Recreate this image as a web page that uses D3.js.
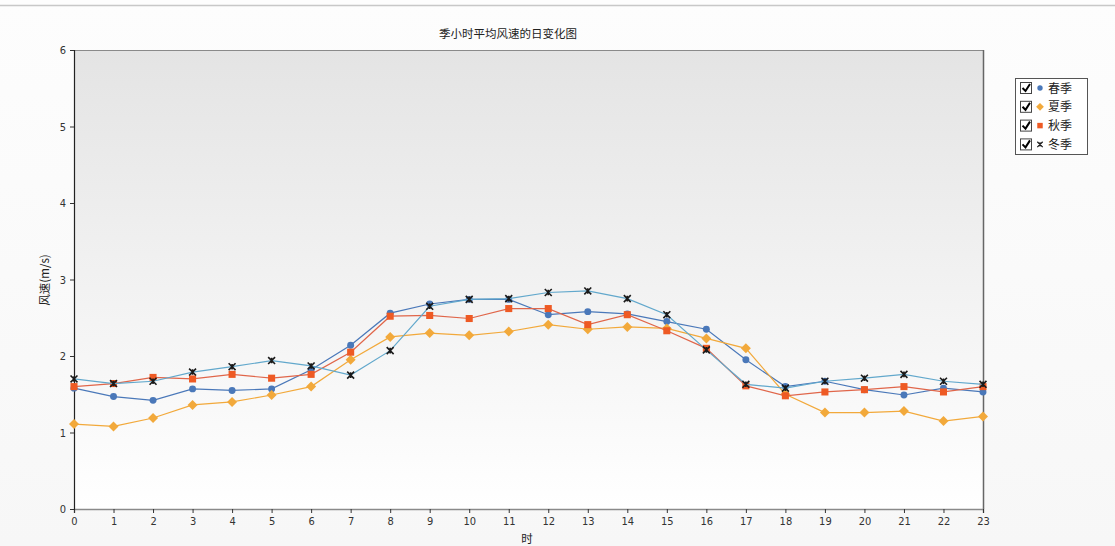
<!DOCTYPE html>
<html>
<head>
<meta charset="utf-8">
<script src="https://cdn.jsdelivr.net/npm/d3@7"></script>
<style>
body{margin:0;background:#fff;}
svg{display:block;font-family:"Noto Sans CJK SC","DejaVu Sans",sans-serif;}
</style>
</head>
<body>
<svg id="chart" width="1115" height="546"></svg>
<script>
const hours = d3.range(0, 24);
const hourTicks = ["0","1","2","3","4","5","6","7","8","9","10","11","12","13","14","15","16","17","18","19","20","21","22","23"];
const yTicks = [0,1,2,3,4,5,6];
const seriesNames = ["春季","夏季","秋季","冬季"];
const spring = [1.58,1.47,1.42,1.57,1.55,1.57,1.82,2.14,2.56,2.68,2.74,2.74,2.54,2.58,2.55,2.45,2.35,1.95,1.60,1.67,1.56,1.49,1.58,1.53];
const summer = [1.11,1.08,1.19,1.36,1.40,1.49,1.60,1.95,2.25,2.30,2.27,2.32,2.41,2.35,2.38,2.36,2.23,2.10,1.50,1.26,1.26,1.28,1.15,1.21];
const autumn = [1.60,1.64,1.72,1.70,1.76,1.71,1.76,2.05,2.52,2.53,2.49,2.62,2.62,2.41,2.54,2.33,2.10,1.61,1.48,1.53,1.56,1.60,1.53,1.60];
const winter = [1.70,1.64,1.67,1.79,1.86,1.94,1.87,1.75,2.07,2.65,2.74,2.75,2.83,2.85,2.75,2.54,2.08,1.63,1.58,1.67,1.71,1.76,1.67,1.63];
const title = "季小时平均风速的日变化图";
const xTitle = "时";
const yTitle = "风速(m/s)";

const series = [
  {name: seriesNames[0], values: spring, color: "#4a78b9", line: "#4a78b9", shape: "circle"},
  {name: seriesNames[1], values: summer, color: "#f2a93b", line: "#f2a93b", shape: "diamond"},
  {name: seriesNames[2], values: autumn, color: "#ee5a24", line: "#e0664a", shape: "square"},
  {name: seriesNames[3], values: winter, color: "#1a1a1a", line: "#62a8cc", shape: "star"}
];

const svg = d3.select("#chart");
const W = 1115, H = 546;
const m = {left: 74, right: 983, top: 50, bottom: 509};

const defs = svg.append("defs");
const bg = defs.append("linearGradient").attr("id","bgGrad").attr("x1",0).attr("y1",0).attr("x2",0).attr("y2",1);
bg.append("stop").attr("offset","0%").attr("stop-color","#fdfdfd");
bg.append("stop").attr("offset","100%").attr("stop-color","#f7f7f7");
const pg = defs.append("linearGradient").attr("id","plotGrad").attr("x1",0).attr("y1",0).attr("x2",0).attr("y2",1);
pg.append("stop").attr("offset","0%").attr("stop-color","#e4e4e4");
pg.append("stop").attr("offset","100%").attr("stop-color","#ffffff");

svg.append("rect").attr("x",0).attr("y",0).attr("width",W).attr("height",H).attr("fill","url(#bgGrad)");
svg.append("line").attr("x1",0).attr("x2",W).attr("y1",5.5).attr("y2",5.5).attr("stroke","#c8c8c8").attr("stroke-width",1.5);

const x = d3.scaleLinear().domain([0,23]).range([m.left, m.right]);
const y = d3.scaleLinear().domain([0,6]).range([m.bottom, m.top]);

svg.append("rect").attr("x",m.left).attr("y",m.top).attr("width",m.right-m.left).attr("height",m.bottom-m.top)
  .attr("fill","url(#plotGrad)");
svg.append("line").attr("x1",m.left).attr("x2",m.right).attr("y1",m.top+0.5).attr("y2",m.top+0.5).attr("stroke","#8a8a8a");
svg.append("line").attr("x1",m.right+0.5).attr("x2",m.right+0.5).attr("y1",m.top).attr("y2",m.bottom).attr("stroke","#666").attr("stroke-width",1.5);

const xAxis = svg.append("g").attr("transform",`translate(0,${m.bottom})`)
  .call(d3.axisBottom(x).tickValues(hours).tickFormat((d,i)=>hourTicks[i]).tickSize(4).tickPadding(4));
xAxis.select(".domain").attr("stroke","#8a8a8a").attr("stroke-width",1.5);
xAxis.selectAll(".tick line").attr("stroke","#333");
xAxis.selectAll("text").attr("font-size",11).attr("fill","#333").attr("font-family","'DejaVu Sans Condensed','DejaVu Sans',sans-serif");

const yAxis = svg.append("g").attr("transform",`translate(${m.left},0)`)
  .call(d3.axisLeft(y).tickValues(yTicks).tickFormat(d3.format("d")).tickSize(4).tickPadding(4));
yAxis.select(".domain").attr("stroke","#222").attr("stroke-width",1.2);
yAxis.selectAll(".tick line").attr("stroke","#333");
yAxis.selectAll("text").attr("font-size",11).attr("fill","#333").attr("font-family","'DejaVu Sans Condensed','DejaVu Sans',sans-serif");

svg.append("text").attr("x",508).attr("y",38).attr("text-anchor","middle").attr("font-size",11.5).attr("fill","#222").text(title);
svg.append("text").attr("x",527).attr("y",543).attr("text-anchor","middle").attr("font-size",11.5).attr("fill","#222").text(xTitle);
svg.append("text").attr("transform","translate(49,280) rotate(-90)").attr("text-anchor","middle").attr("font-size",11.5).attr("fill","#222").text(yTitle);

// custom symbols
const squareDiamond = {draw(ctx, size){ const r = Math.sqrt(size/2); ctx.moveTo(0,-r); ctx.lineTo(r,0); ctx.lineTo(0,r); ctx.lineTo(-r,0); ctx.closePath(); }};
const starX = {draw(ctx, size){ const r = Math.sqrt(size)/2;
  ctx.moveTo(-r,-r); ctx.lineTo(r,r); ctx.moveTo(r,-r); ctx.lineTo(-r,r);
  ctx.moveTo(0,-r*0.8); ctx.lineTo(0,r*0.8); }};

const lineGen = d3.line().x((d,i)=>x(hours[i])).y(d=>y(d));
const symbolFor = s => ({circle:d3.symbolCircle, diamond:squareDiamond, square:d3.symbolSquare, star:starX})[s];
const sizeFor = s => ({circle:38, diamond:50, square:50, star:48})[s];

series.forEach(s => {
  const g = svg.append("g");
  g.append("path").datum(s.values).attr("d",lineGen).attr("fill","none").attr("stroke",s.line).attr("stroke-width",1.2);
  g.selectAll("path.pt").data(s.values).join("path").attr("class","pt")
    .attr("transform",(d,i)=>`translate(${x(hours[i])},${y(d)})`)
    .attr("d",d3.symbol().type(symbolFor(s.shape)).size(sizeFor(s.shape)))
    .attr("fill",s.shape==="star"?"none":s.color)
    .attr("stroke",s.shape==="star"?"#1a1a1a":"none")
    .attr("stroke-width",s.shape==="star"?1.6:0);
});

const lg = svg.append("g");
lg.append("rect").attr("x",1015.5).attr("y",78.5).attr("width",72).attr("height",76).attr("fill","#fff").attr("stroke","#555");
series.forEach((s,i)=>{
  const cy = 88 + i*18.8;
  lg.append("rect").attr("x",1020.5).attr("y",cy-5.5).attr("width",11).attr("height",11).attr("fill","#fff").attr("stroke","#444");
  lg.append("path").attr("d",`M${1022.5},${cy} L${1025.5},${cy+3} L${1030},${cy-4}`).attr("fill","none").attr("stroke","#000").attr("stroke-width",2);
  lg.append("path").attr("transform",`translate(1040,${cy})`)
    .attr("d",d3.symbol().type(symbolFor(s.shape)).size(sizeFor(s.shape)*0.6))
    .attr("fill",s.shape==="star"?"none":s.color).attr("stroke",s.shape==="star"?"#1a1a1a":"none").attr("stroke-width",1.2);
  lg.append("text").attr("x",1048).attr("y",cy+4.5).attr("font-size",12).attr("fill","#222").text(s.name);
});
</script>
</body>
</html>
